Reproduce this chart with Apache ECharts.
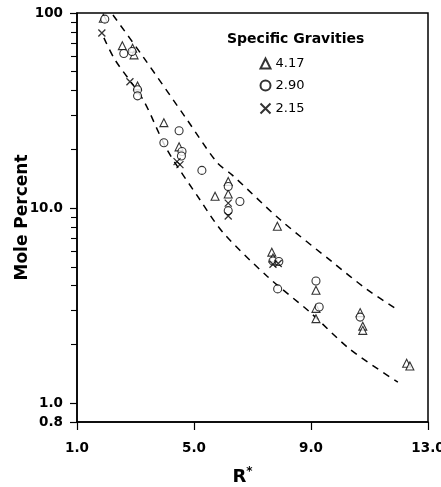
<!DOCTYPE html>
<html>
<head>
<meta charset="utf-8">
<script src="https://cdn.jsdelivr.net/npm/echarts@6/dist/echarts.min.js"></script>
<style>
html,body{margin:0;padding:0;background:#fff;}
#chart{width:441px;height:487px;}
</style>
</head>
<body>
<div id="chart"></div>
<script>
// Specific gravity 4.17 (triangles): [R*, mole %]
const sg417 = [[1.9,94],[2.55,68],[2.9,66],[2.95,61],[3.07,42.3],[3.97,27.4],[4.49,20.6],[5.72,11.5],[6.17,13.7],[6.17,11.8],[7.85,8.07],[7.66,5.94],[7.7,5.55],[9.17,3.79],[9.17,3.06],[9.17,2.71],[10.68,2.91],[10.77,2.48],[10.77,2.36],[12.27,1.6],[12.38,1.55]];
// Specific gravity 2.90 (circles)
const sg290 = [[1.95,93],[2.6,62],[2.88,63.5],[3.07,40.4],[3.07,37.6],[3.97,21.6],[4.49,24.9],[4.59,19.5],[4.57,18.5],[5.27,15.6],[6.17,12.9],[6.17,9.7],[6.57,10.8],[7.7,5.35],[7.9,5.32],[7.86,3.85],[9.17,4.23],[9.28,3.11],[10.68,2.76]];
// Specific gravity 2.15 (crosses)
const sg215 = [[1.85,79],[2.81,44.4],[4.42,17.3],[4.52,16.7],[6.17,10.6],[6.17,9.1],[7.7,5.15],[7.88,5.2]];
// Dashed envelope curves
const upperBand = [[2.23,97.7],[3.26,59.6],[4.76,28.4],[5.79,17.1],[6.30,14.8],[7.94,8.73],[9.75,5.26],[10.91,3.83],[11.97,3.0]];
const lowerBand = [[1.92,74.5],[2.30,57.5],[3.26,35.9],[4.08,19.9],[5.21,11.0],[5.99,7.5],[7.50,4.47],[8.97,2.92],[10.33,1.89],[11.97,1.28]];
// Axis ticks
const xTicks = [1, 5, 9, 13];
const yMajorTicks = [0.8, 1, 10, 100];
const yMinorTicks = [2,3,4,5,6,7,8,9,20,30,40,50,60,70,80,90];

const F = 'DejaVu Sans';
const chart = echarts.init(document.getElementById('chart'), null, {renderer:'canvas'});
const hollow = {color:'#fff', borderColor:'#000', borderWidth:1.1};
const dashed = {color:'#000', width:1.5, type:[7,6]};
chart.setOption({
  animation:false,
  backgroundColor:'#fff',
  title:{text:'Specific Gravities', left:222, top:27, textStyle:{fontFamily:F, fontWeight:'bold', fontSize:14, color:'#000'}},
  legend:{orient:'vertical', left:253, top:52, itemGap:9, itemWidth:10, itemHeight:10,
    data:['4.17','2.90','2.15'],
    textStyle:{fontFamily:F, fontSize:13, color:'#000'}},
  grid:{left:77, right:13, top:13, bottom:65, outerBoundsMode:'none', containLabel:false, show:true, borderColor:'#000', borderWidth:1.5},
  xAxis:{type:'value', min:xTicks[0], max:xTicks[xTicks.length-1], interval:4,
    name:'{r|R}{s|*}', nameLocation:'middle', nameGap:44,
    nameTextStyle:{padding:[0,20,0,0], rich:{r:{fontFamily:F, fontWeight:'bold', fontSize:18, color:'#000'}, s:{fontFamily:F, fontWeight:'bold', fontSize:12, color:'#000', verticalAlign:'top', padding:[0,0,10,0]}}},
    axisLine:{lineStyle:{color:'#000', width:1.5}},
    axisTick:{show:true, inside:false, length:8, lineStyle:{color:'#000', width:1.2}},
    axisLabel:{margin:19, fontFamily:F, fontWeight:'bold', fontSize:13.5, color:'#000', formatter:v=>v.toFixed(1)},
    splitLine:{show:false}},
  yAxis:[{type:'log', logBase:10, min:0.8, max:100, position:'left',
    name:'Mole Percent', nameLocation:'middle', nameGap:46, nameRotate:90, nameMoveOverlap:false,
    nameTextStyle:{fontFamily:F, fontWeight:'bold', fontSize:17, color:'#000'},
    axisLine:{show:true, lineStyle:{color:'#000', width:1.5}},
    axisTick:{show:true, length:7, customValues:yMajorTicks, lineStyle:{color:'#000', width:1.2}},
    axisLabel:{margin:14, fontFamily:F, fontWeight:'bold', fontSize:13.5, color:'#000', customValues:yMajorTicks,
      formatter:v=> (Math.abs(v-100)<1e-6 ? '100' : (+v).toFixed(1))},
    splitLine:{show:false}},
   {type:'log', logBase:10, min:0.8, max:100, position:'left',
    axisLine:{show:false}, axisLabel:{show:false}, splitLine:{show:false},
    axisTick:{show:true, length:6, customValues:yMinorTicks, lineStyle:{color:'#000', width:1.1}}}],
  series:[
    {name:'upper', type:'line', data:upperBand, smooth:0.3, symbol:'none', lineStyle:dashed, silent:true, z:1},
    {name:'lower', type:'line', data:lowerBand, smooth:0.3, symbol:'none', lineStyle:dashed, silent:true, z:1},
    {name:'4.17', type:'scatter', data:sg417, symbol:'triangle', symbolSize:8, itemStyle:hollow, z:3},
    {name:'2.90', type:'scatter', data:sg290, symbol:'circle', symbolSize:8, itemStyle:hollow, z:3},
    {name:'2.15', type:'scatter', data:sg215, symbol:'path://M0,0L10,10M10,0L0,10', symbolSize:7, itemStyle:{color:'none', borderColor:'#000', borderWidth:1.3}, z:3}
  ]
});
</script>
</body>
</html>
